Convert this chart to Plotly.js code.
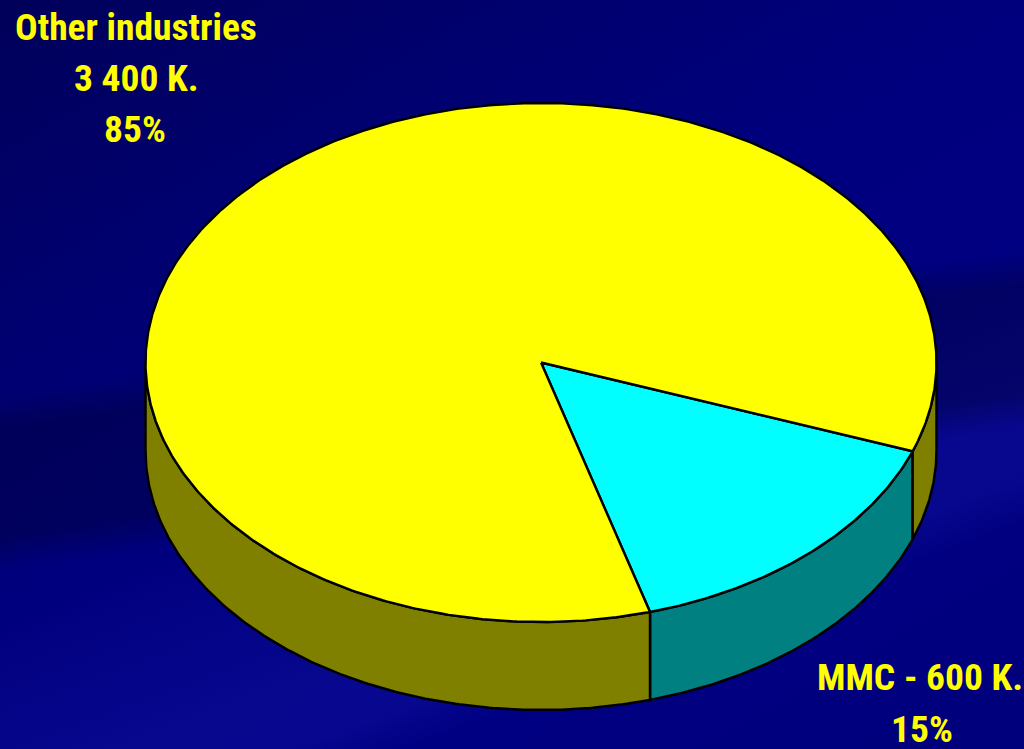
<!DOCTYPE html>
<html>
<head>
<meta charset="utf-8">
<script src="https://cdn.plot.ly/plotly-3.0.1.min.js"></script>
<style>
html, body { margin:0; padding:0; width:1024px; height:749px; overflow:hidden; }
body {
  background:
    linear-gradient(172deg, rgba(0,0,30,0) 0%, rgba(0,0,30,0) 44%, rgba(0,0,40,0.35) 48%, rgba(0,0,40,0.35) 60%, rgba(0,0,30,0) 64%),
    linear-gradient(160deg, rgba(30,30,200,0) 55%, rgba(40,40,200,0.18) 70%, rgba(40,40,200,0.18) 76%, rgba(30,30,200,0) 80%),
    linear-gradient(150deg, #00005a 0%, #000070 25%, #00007e 45%, #000084 70%, #00007c 100%);
}
#chart { width:1024px; height:749px; }
</style>
</head>
<body>
<div id="chart"></div>
<script>
// ---- data ----
const categories = ["Other industries", "MMC"];
const values = [3400, 600];
const valueLabels = ["3 400 K.", "600 K."];
const topColors = ["#ffff00", "#00ffff"];
const sideColors = ["#808000", "#008080"];

// ---- geometry (layout only) ----
const cx = 541, cy = 362.5, rx = 395.5, ry = 259.5, depth = 88;
const startAngle = 20; // degrees, clockwise on screen from 3 o'clock, start of MMC slice

const total = values.reduce((a, b) => a + b, 0);
const pct = values.map(v => Math.round(v / total * 100) + "%");

// slices ordered clockwise starting with MMC
const order = [1, 0];
const slices = [];
let a = startAngle;
order.forEach(i => {
  const span = 360 * values[i] / total;
  slices.push({ i: i, t0: a, t1: a + span });
  a += span;
});

function pt(tDeg, dy) {
  const t = tDeg * Math.PI / 180;
  return [cx + rx * Math.cos(t), cy + ry * Math.sin(t) + (dy || 0)];
}
function arc(t0, t1, dy) {
  const pts = [];
  const n = Math.max(2, Math.ceil(Math.abs(t1 - t0) / 0.5));
  for (let k = 0; k <= n; k++) pts.push(pt(t0 + (t1 - t0) * k / n, dy));
  return pts;
}

const traces = [];
// sides (front half, t in [0,180] mod 360)
slices.forEach(s => {
  for (let base = -360; base <= 360; base += 360) {
    const lo = Math.max(s.t0, base + 0), hi = Math.min(s.t1, base + 180);
    if (hi - lo > 0.01) {
      const top = arc(lo, hi, 0);
      const bot = arc(hi, lo, depth);
      const all = top.concat(bot);
      all.push(top[0]);
      traces.push({
        type: "scatter", mode: "lines", fill: "toself",
        x: all.map(p => p[0]), y: all.map(p => p[1]),
        fillcolor: sideColors[s.i], line: { color: "#000000", width: 2.5 },
        hoverinfo: "skip", showlegend: false
      });
    }
  }
});
// tops
slices.forEach(s => {
  const pts = [[cx, cy]].concat(arc(s.t0, s.t1, 0));
  pts.push([cx, cy]);
  traces.push({
    type: "scatter", mode: "lines", fill: "toself",
    x: pts.map(p => p[0]), y: pts.map(p => p[1]),
    fillcolor: topColors[s.i], line: { color: "#000000", width: 2.4 },
    name: categories[s.i], hoverinfo: "name", showlegend: false
  });
});

const font = { family: "'Liberation Sans Narrow', 'Arial Narrow', 'Roboto Condensed', Arial, sans-serif", size: 37.5, color: "#ffff00", weight: 700 };
function ann(text, x, y) {
  return { text: "<b>" + text + "</b>", x: x, y: y, xref: "x", yref: "y", xanchor: "center", yanchor: "middle", showarrow: false, font: font };
}
const annotations = [
  ann(categories[0], 136, 27),
  ann(valueLabels[0], 136, 78),
  ann(pct[0], 135, 129),
  ann(categories[1] + " - " + valueLabels[1], 920, 677),
  ann(pct[1], 922, 729)
];

const layout = {
  width: 1024, height: 749,
  margin: { l: 0, r: 0, t: 0, b: 0, pad: 0 },
  paper_bgcolor: "rgba(0,0,0,0)", plot_bgcolor: "rgba(0,0,0,0)",
  xaxis: { range: [0, 1024], visible: false, fixedrange: true },
  yaxis: { range: [749, 0], visible: false, fixedrange: true },
  annotations: annotations,
  showlegend: false
};
Plotly.newPlot("chart", traces, layout, { staticPlot: true, displayModeBar: false });
</script>
</body>
</html>
